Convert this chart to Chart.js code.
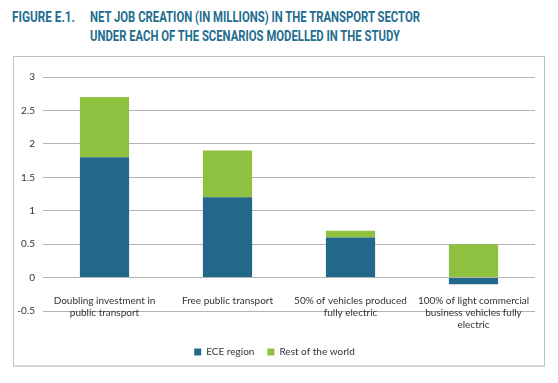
<!DOCTYPE html>
<html>
<head>
<meta charset="utf-8">
<script src="https://cdn.jsdelivr.net/npm/chart.js@4/dist/chart.umd.min.js"></script>
<style>
  html, body { margin: 0; padding: 0; background: #fff; }
  body { width: 558px; height: 383px; position: relative; overflow: hidden; }
  .ttl { position: absolute; font-family: Roboto, "DejaVu Sans", sans-serif; font-weight: bold; font-size: 14px; line-height: 19px; color: #1f6d8f; white-space: nowrap; transform-origin: 0 0; }
  #box { position: absolute; left: 13px; top: 56px; width: 532px; height: 311px; box-sizing: border-box; border: 1px solid #c2c2c2; border-bottom: 2px solid #d6d6d6; }
  #c { position: absolute; left: 14px; top: 57px; }
</style>
</head>
<body>
<div class="ttl" id="fig" data-w="63" style="left:12px; top:8px;">FIGURE E.1.</div>
<div class="ttl" id="t1" data-w="330" style="left:90px; top:8px;">NET JOB CREATION (IN MILLIONS) IN THE TRANSPORT SECTOR</div>
<div class="ttl" id="t2" data-w="310" style="left:90px; top:27px;">UNDER EACH OF THE SCENARIOS MODELLED IN THE STUDY</div>
<div id="box"></div>
<canvas id="c" width="530" height="310"></canvas>
<script>
document.querySelectorAll('.ttl').forEach(el => {
  const w = el.getBoundingClientRect().width;
  el.style.transform = 'scaleX(' + (parseFloat(el.dataset.w) / w) + ')';
});

const categories = [
  ["Doubling investment in", "public transport"],
  ["Free public transport"],
  ["50% of vehicles produced", "fully electric"],
  ["100% of light commercial", "business vehicles fully", "electric"]
];
const eceRegion = [1.8, 1.2, 0.6, -0.1];
const restOfWorld = [0.9, 0.7, 0.1, 0.5];
const seriesNames = ["ECE region", "Rest of the world"];
const yTicks = { min: -0.5, max: 3, step: 0.5 };

const FONT = "Lato, 'Open Sans', sans-serif";
const TXT = "#333333";

new Chart(document.getElementById('c'), {
  type: 'bar',
  data: {
    labels: categories,
    datasets: [
      { label: seriesNames[0], data: eceRegion, backgroundColor: '#23678a', borderWidth: 0 },
      { label: seriesNames[1], data: restOfWorld, backgroundColor: '#8dc13f', borderWidth: 0 }
    ]
  },
  options: {
    responsive: false,
    animation: false,
    layout: { padding: { left: 0, right: 9, top: 20, bottom: 0 } },
    datasets: { bar: { barPercentage: 0.4, categoryPercentage: 1 } },
    scales: {
      x: {
        stacked: true,
        position: { y: 0 },
        grid: { display: false },
        border: { display: false },
        ticks: { color: TXT, font: { family: FONT, size: 10 }, padding: 9, maxRotation: 0, autoSkip: false }
      },
      y: {
        stacked: true,
        min: yTicks.min, max: yTicks.max,
        afterFit: (s) => { s.width = 29; },
        grid: { color: '#b3b3b3', lineWidth: 1, drawTicks: false },
        border: { display: false },
        ticks: { stepSize: yTicks.step, color: TXT, font: { family: FONT, size: 10 }, padding: 8,
                 callback: (v) => String(Math.round(v * 10) / 10) }
      }
    },
    plugins: {
      tooltip: { enabled: false },
      title: { display: true, position: 'bottom', text: '', weight: 500, font: { size: 10 }, padding: { top: 0, bottom: 11 } },
      legend: {
        position: 'bottom',
        labels: { boxWidth: 7, boxHeight: 7, padding: 13, color: TXT, font: { family: FONT, size: 10 } }
      }
    }
  }
});
</script>
</body>
</html>
